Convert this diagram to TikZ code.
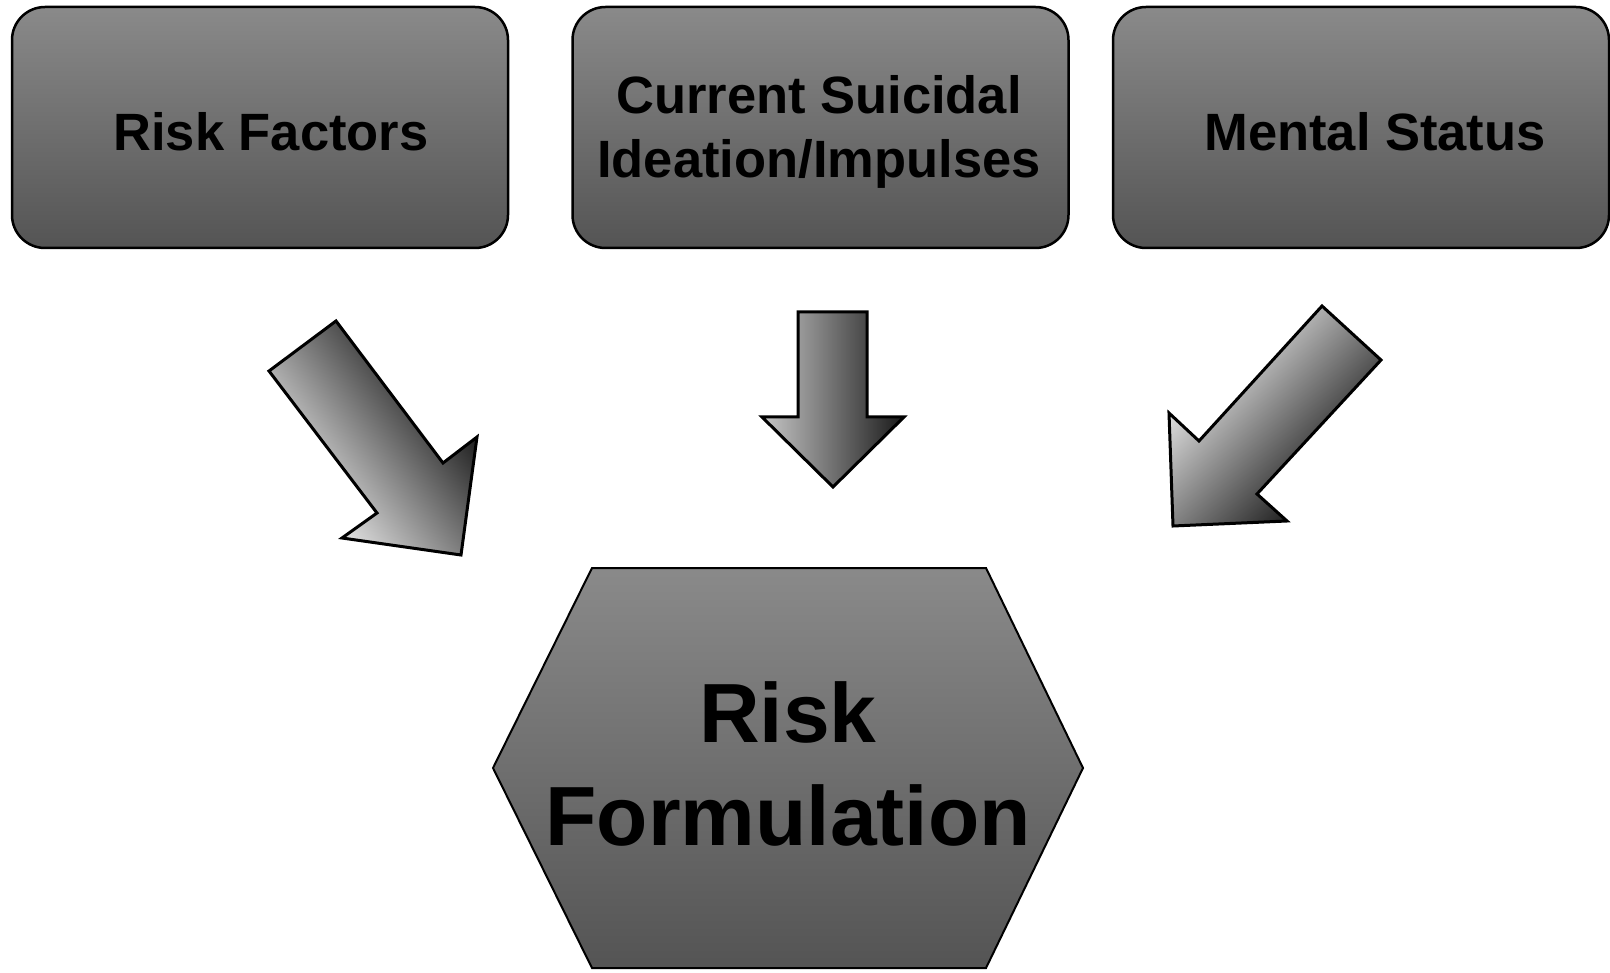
\documentclass[tikz,border=0pt]{standalone}
\usepackage{fontspec}
\setmainfont{Liberation Sans}
\usetikzlibrary{positioning}
\definecolor{boxtop}{gray}{0.54}
\definecolor{boxbot}{gray}{0.33}

\begin{document}
\begin{tikzpicture}[x=1pt,y=-1pt,
  box/.style={draw,line width=2.5pt,rounded corners=33pt,minimum width=496pt,minimum height=241pt,top color=boxtop,bottom color=boxbot},
  boxtext/.style={font=\bfseries\fontsize{52.5}{64}\selectfont,align=center,inner sep=0pt},
  bigtext/.style={font=\bfseries\fontsize{84}{103}\selectfont,align=center,inner sep=0pt},
  blockarrow/.style={draw,line width=3pt,line join=miter},
  diagshade/.style={left color=white,middle color=black!31,right color=black}]
  \useasboundingbox (0,0) rectangle (1610,973);

  % the three inputs
  \node[box] (factors) at (260,127.5) {};
  \node[box] (ideation) at (820.5,127.5) {};
  \node[box] (mental) at (1361,127.5) {};
  \node[boxtext] (factorst) at (271,131.5) {Risk Factors};
  \node[boxtext] (ideationt) at (819,131.5) {Current Suicidal\\Ideation/Impulses};
  \node[boxtext] (mentalt) at (1375,131.5) {Mental Status};

  % block arrows
  \shade[blockarrow,diagshade,shading angle=127.3]
    (269,371) -- (336,321) -- (443,463) -- (477,437) -- (461,555) -- (342,538) -- (377,513) -- cycle;
  \shade[blockarrow,left color=black!22,middle color=black!46,right color=black!90]
    (798,312) -- (867,312) -- (867,417) -- (904,417) -- (833,487) -- (762,417) -- (798,417) -- cycle;
  \shade[blockarrow,diagshade,shading angle=47.3]
    (1322,306) -- (1381,360) -- (1257,494) -- (1287,521) -- (1173,526) -- (1169,413) -- (1199,441) -- cycle;

  % result
  \draw[line width=2pt,top color=boxtop,bottom color=boxbot]
    (592,568) -- (986,568) -- (1083,768) -- (986,968) -- (592,968) -- (493,768) -- cycle;
  \node[bigtext] (formulation) at (788,763.5) {Risk\\Formulation};

\end{tikzpicture}
\end{document}
